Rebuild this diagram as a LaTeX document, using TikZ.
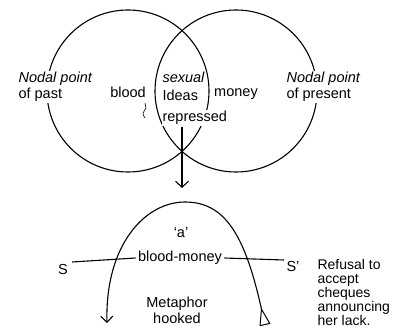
\documentclass[tikz,border=0pt]{standalone}
\usepackage{fontspec}
\setmainfont{Liberation Sans}
\usetikzlibrary{arrows.meta}
\begin{document}
\begin{tikzpicture}[x=1pt,y=-1pt, line width=1.1pt,
  txt/.style={font=\fontsize{14.5}{16}\selectfont, inner sep=1pt},
  wtxt/.style={txt, fill=white},
  venn/.style={circle, draw, minimum size=162pt, inner sep=0pt},
  barb/.style={-{Straight Barb[length=6pt,width=13pt]}}]
\useasboundingbox (0,0) rectangle (395,336);
% Venn circles
\node[venn] (past) at (128,91) {};
\node[venn] (pres) at (236,91) {};
% labels
\node[wtxt, anchor=west, align=left] (npast) at (17,87) {{\itshape Nodal point}\\of past};
\node[wtxt, anchor=west, align=left] (npres) at (285,87) {{\itshape Nodal point}\\of present};
\node[txt] (blood) at (128,92) {blood};
\node[txt, anchor=west] (sexual) at (161,77) {\itshape sexual};
\node[txt, anchor=west] (ideas) at (161,95) {Ideas};
\node[wtxt, anchor=west] (repr) at (161,118) {repressed};
\node[txt] (money) at (236,94) {money};
% squiggle under blood
\draw[line width=0.6pt] (145,103) to[out=-60,in=90] (146,108) to[out=-90,in=90] (143,113) to[out=-90,in=120] (145,118);
% arrow down
\coordinate (a1) at (182,127);
\coordinate (a2) at (182,188);
\draw[barb] (a1) -- (a2);
% arch
\coordinate (archR) at (265,325);
\coordinate (archT) at (185,202);
\coordinate (archL) at (107,323);
\draw[{Triangle[open,reversed,length=18pt,width=11pt,line width=1pt]}-{Straight Barb[length=6pt,width=12pt]}]
  (archR) .. controls (245,235) and (225,202) .. (archT) .. controls (145,202) and (105,245) .. (archL);
% lower labels
\node[txt] (a) at (181,233) {`a'};
\node[wtxt, inner sep=2pt] (bm) at (180,258) {blood-money};
\node[txt] (S) at (63,270) {S};
\node[txt] (Sp) at (293,267) {S'};
\coordinate (sl) at (72,262);
\coordinate (sr) at (284,260);
\draw (sl) -- (bm.west);
\draw (bm.east) -- (sr);
\node[txt, align=center] (meta) at (177,310) {Metaphor\\hooked};
\node[txt, font=\fontsize{14}{14}\selectfont, anchor=north west, align=left] (refusal) at (316,258) {Refusal to\\accept\\cheques\\announcing\\her lack.};
\end{tikzpicture}
\end{document}
